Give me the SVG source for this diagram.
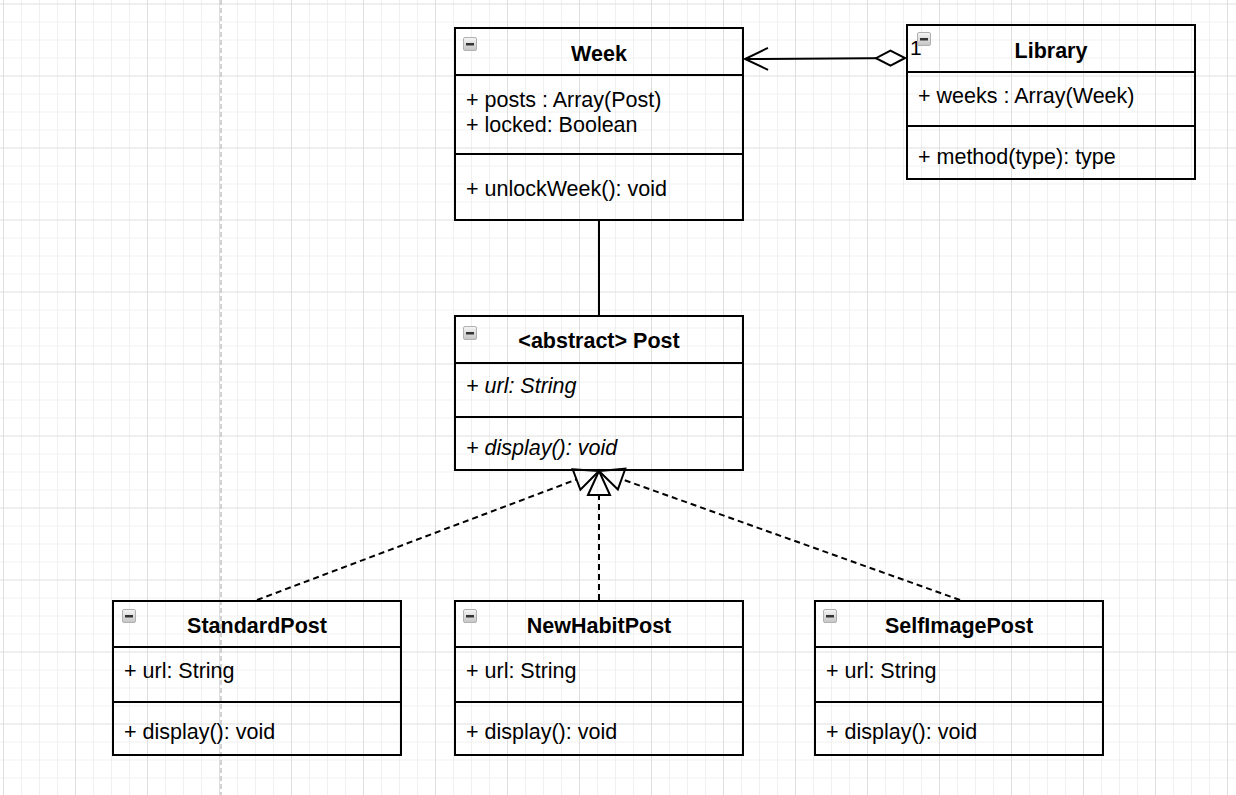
<svg xmlns="http://www.w3.org/2000/svg" width="1236" height="795" viewBox="0 0 1236 795">
  <style>
    .box { fill: none; stroke: #000; stroke-width: 2; }
    .sep { stroke: #000; stroke-width: 2; }
    .title { font-family: "Liberation Sans", Arial, sans-serif; font-size: 21.5px; font-weight: bold; text-anchor: middle; fill: #000; }
    .member { font-family: "Liberation Sans", Arial, sans-serif; font-size: 21.5px; fill: #000; }
    .abstract { font-style: italic; }
    .edge { fill: none; stroke: #000; stroke-width: 2; }
    .dashed { stroke-dasharray: 6 4; }
    .mult { font-family: "Liberation Sans", Arial, sans-serif; font-size: 21px; fill: #000; }
  </style>
  <defs>
    <pattern id="grid" patternUnits="userSpaceOnUse" x="3" y="3.5" width="72" height="72">
      <path d="M18.5 0V72M36.5 0V72M54.5 0V72M0 18.5H72M0 36.5H72M0 54.5H72" stroke="#f0f0f0" stroke-width="1" fill="none"/>
      <path d="M0.5 0V72M0 0.5H72" stroke="#dedede" stroke-width="1" fill="none"/>
    </pattern>
    <linearGradient id="iconFill" x1="0" y1="0" x2="0" y2="1">
      <stop offset="0" stop-color="#f6f6f6"/>
      <stop offset="1" stop-color="#c4c4c4"/>
    </linearGradient>
    <!-- collapse toggle shown in each class header -->
    <symbol id="collapse" viewBox="0 0 14 14" width="14" height="14">
      <rect x="0.5" y="0.5" width="13" height="13" rx="1.5" fill="url(#iconFill)" stroke="#b0b0b0"/>
      <rect x="3" y="6" width="8" height="2.5" fill="#333"/>
    </symbol>
    <!-- hollow realization triangle, base at the path end -->
    <marker id="realize" markerUnits="userSpaceOnUse" orient="auto" refX="0" refY="0" markerWidth="30" markerHeight="30" viewBox="-2 -13 30 26" overflow="visible">
      <path d="M0,-11 L24,0 L0,11 Z" fill="none" stroke="#000" stroke-width="2" stroke-dasharray="none"/>
    </marker>
    <!-- open navigation arrow -->
    <marker id="openArrow" markerUnits="userSpaceOnUse" orient="auto" refX="0" refY="0" markerWidth="30" markerHeight="30" viewBox="-26 -13 30 26" overflow="visible">
      <path d="M-23,-11 L0,0 L-23,11" fill="none" stroke="#000" stroke-width="2"/>
    </marker>
    <!-- aggregation diamond -->
    <marker id="aggregation" markerUnits="userSpaceOnUse" orient="auto" refX="0" refY="0" markerWidth="34" markerHeight="20" viewBox="-2 -10 34 20" overflow="visible">
      <path d="M0,0 L14.5,-7.5 L29,0 L14.5,7.5 Z" fill="#fff" stroke="#000" stroke-width="2"/>
    </marker>
  </defs>

  <!-- canvas -->
  <rect width="1236" height="795" fill="#fff"/>
  <rect width="1236" height="795" fill="url(#grid)"/>
  <line x1="221" y1="0" x2="221" y2="795" stroke="#c4c4c4" stroke-width="1.5" stroke-dasharray="5 3"/>

  <g id="connectors">
    <!-- Library aggregates Week -->
    <path class="edge" d="M905,58 L745,59" marker-start="url(#aggregation)" marker-end="url(#openArrow)"/>
    <text class="mult" x="910" y="55">1</text>
    <!-- Week to Post -->
    <path class="edge" d="M599,220 V316"/>
    <!-- realizations of Post -->
    <path class="edge dashed" d="M257,600 L576.5,479.5" marker-end="url(#realize)"/>
    <path class="edge dashed" d="M599,600 V495" marker-end="url(#realize)"/>
    <path class="edge dashed" d="M960,600 L621.6,479.1" marker-end="url(#realize)"/>
  </g>

  <g id="week">
    <rect class="box" x="455" y="28" width="288" height="192"/>
    <line class="sep" x1="455" y1="75" x2="743" y2="75"/>
    <line class="sep" x1="455" y1="154" x2="743" y2="154"/>
    <use href="#collapse" x="463" y="37"/>
    <text class="title" x="599" y="61">Week</text>
    <text class="member" x="466" y="107">+ posts : Array(Post)</text>
    <text class="member" x="466" y="132">+ locked: Boolean</text>
    <text class="member" x="466" y="196">+ unlockWeek(): void</text>
  </g>

  <g id="library">
    <rect class="box" x="907" y="25" width="288" height="154"/>
    <line class="sep" x1="907" y1="72" x2="1195" y2="72"/>
    <line class="sep" x1="907" y1="126" x2="1195" y2="126"/>
    <use href="#collapse" x="917" y="32"/>
    <text class="title" x="1051" y="58">Library</text>
    <text class="member" x="918" y="103">+ weeks : Array(Week)</text>
    <text class="member" x="918" y="164">+ method(type): type</text>
  </g>

  <g id="post">
    <rect class="box" x="455" y="316" width="288" height="154"/>
    <line class="sep" x1="455" y1="363" x2="743" y2="363"/>
    <line class="sep" x1="455" y1="417" x2="743" y2="417"/>
    <use href="#collapse" x="463" y="326"/>
    <text class="title" x="599" y="348">&lt;abstract&gt; Post</text>
    <text class="member abstract" x="466" y="393">+ url: String</text>
    <text class="member abstract" x="466" y="455">+ display(): void</text>
  </g>

  <g id="standard-post">
    <rect class="box" x="113" y="601" width="288" height="154"/>
    <line class="sep" x1="113" y1="647" x2="401" y2="647"/>
    <line class="sep" x1="113" y1="702" x2="401" y2="702"/>
    <use href="#collapse" x="122" y="609"/>
    <text class="title" x="257" y="633">StandardPost</text>
    <text class="member" x="124" y="678">+ url: String</text>
    <text class="member" x="124" y="739">+ display(): void</text>
  </g>

  <g id="new-habit-post">
    <rect class="box" x="455" y="601" width="288" height="154"/>
    <line class="sep" x1="455" y1="647" x2="743" y2="647"/>
    <line class="sep" x1="455" y1="702" x2="743" y2="702"/>
    <use href="#collapse" x="463" y="609"/>
    <text class="title" x="599" y="633">NewHabitPost</text>
    <text class="member" x="466" y="678">+ url: String</text>
    <text class="member" x="466" y="739">+ display(): void</text>
  </g>

  <g id="self-image-post">
    <rect class="box" x="815" y="601" width="288" height="154"/>
    <line class="sep" x1="815" y1="647" x2="1103" y2="647"/>
    <line class="sep" x1="815" y1="702" x2="1103" y2="702"/>
    <use href="#collapse" x="823" y="609"/>
    <text class="title" x="959" y="633">SelfImagePost</text>
    <text class="member" x="826" y="678">+ url: String</text>
    <text class="member" x="826" y="739">+ display(): void</text>
  </g>
</svg>
